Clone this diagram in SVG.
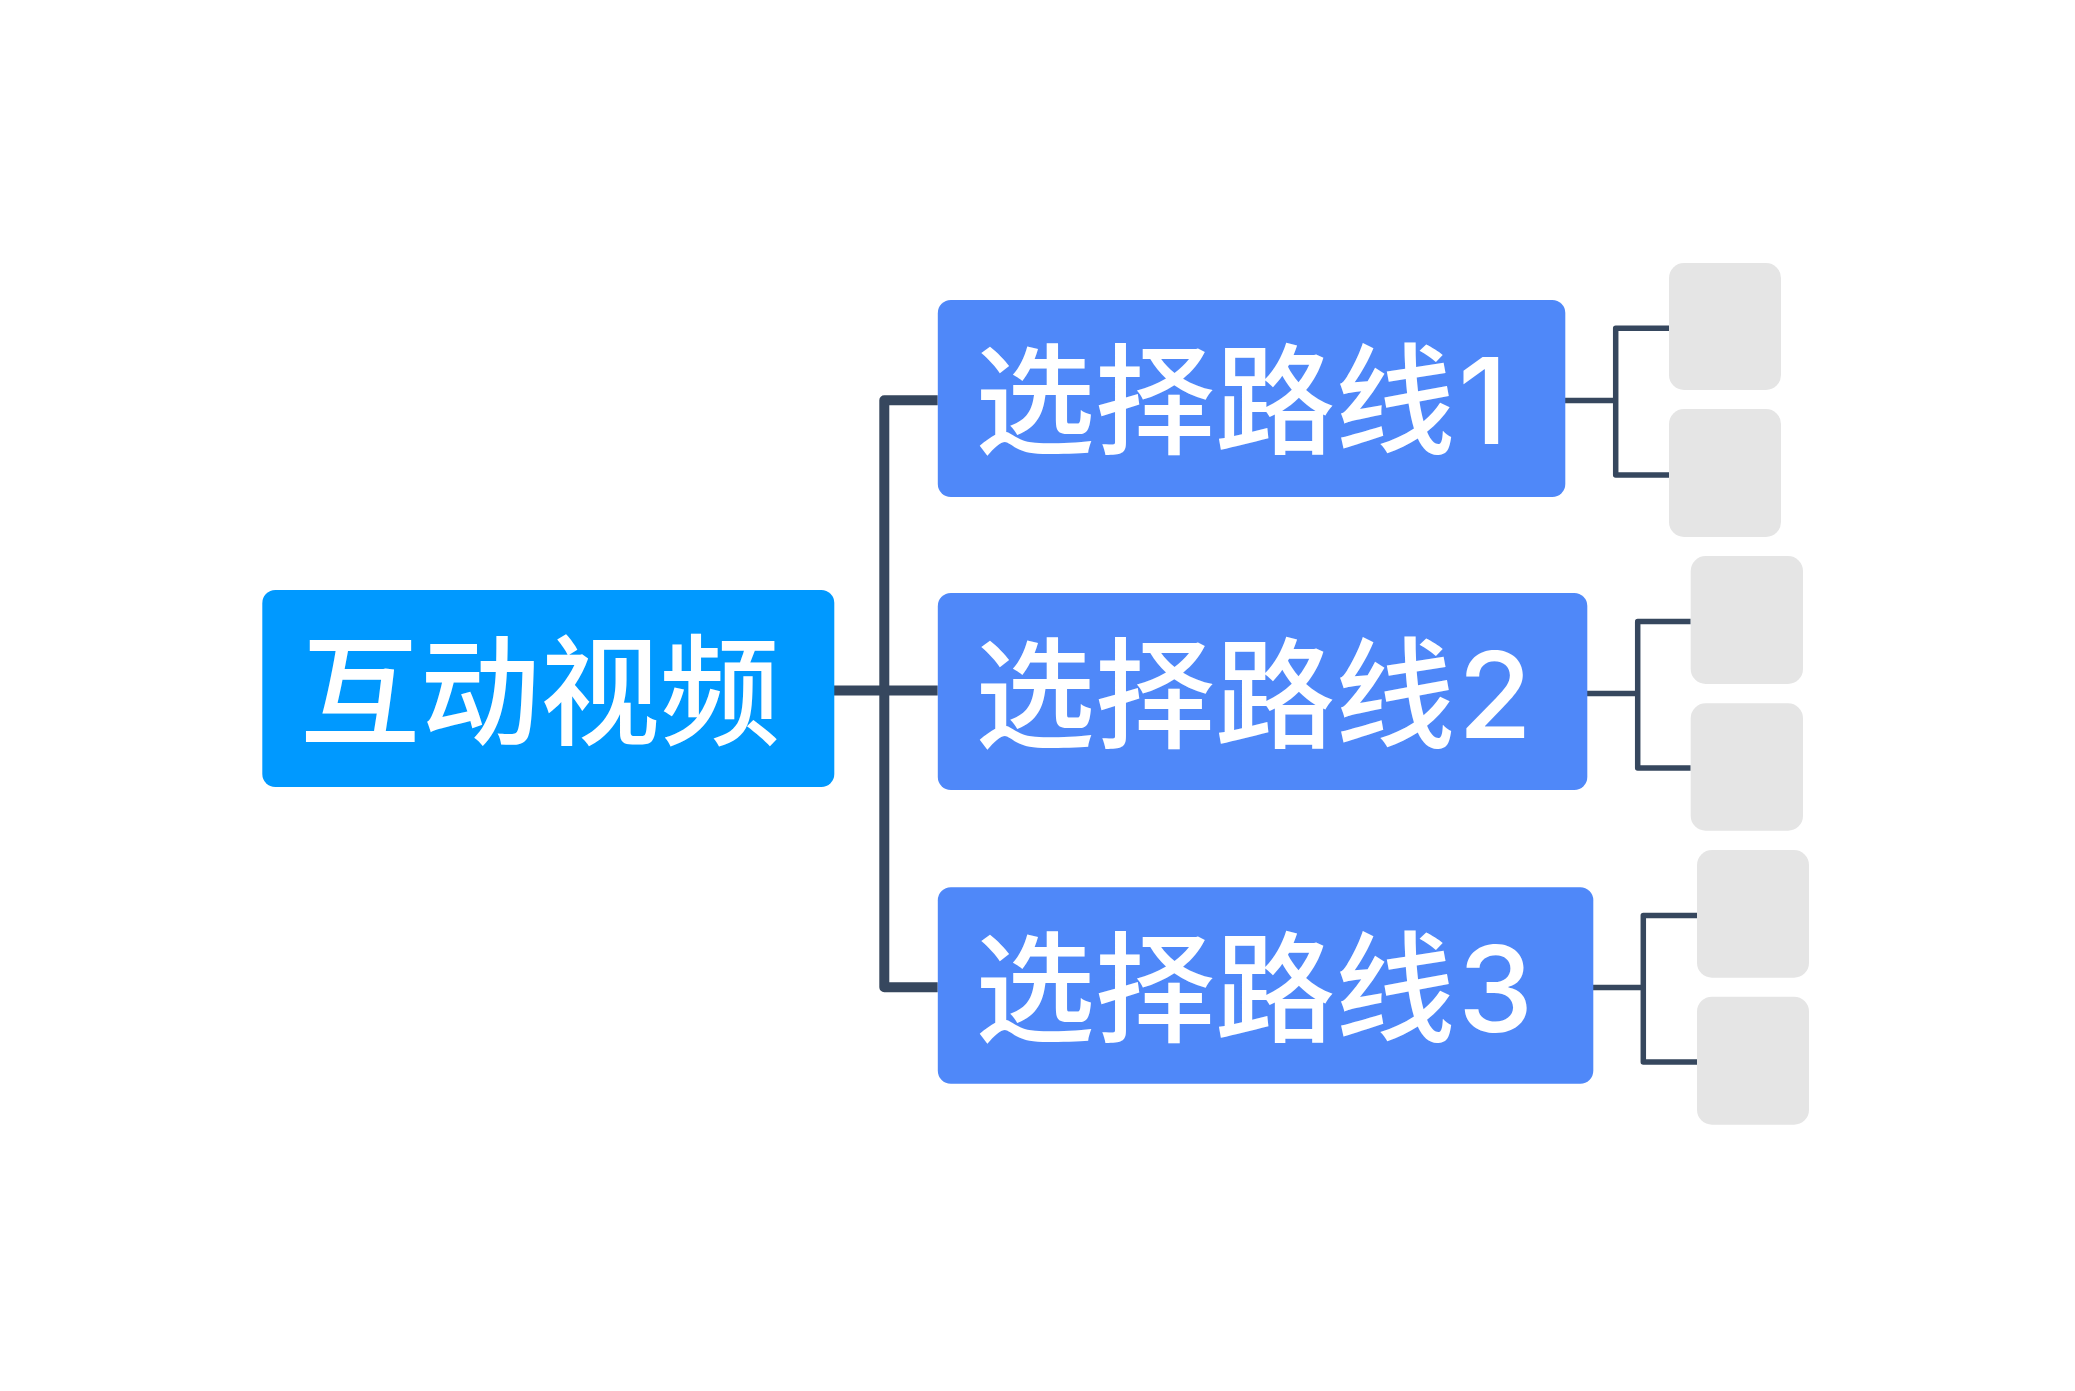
<svg xmlns="http://www.w3.org/2000/svg" width="2075" height="1391" viewBox="0 0 2075 1391">
<style>
.root{fill:#0099FF}
.topic{fill:#4F88F9}
.leaf{fill:#E5E5E5}
.lbl{font-family:"Noto Sans CJK SC","Noto Sans",sans-serif;font-size:120px;font-weight:500;fill:#FFFFFF;dominant-baseline:central}
.num{font-family:Inter,"Liberation Sans",sans-serif;font-weight:500}
.c1{fill:none;stroke:#36475E;stroke-width:10;stroke-linejoin:round}
.c2{fill:none;stroke:#36475E;stroke-width:5.5;stroke-linejoin:round}
</style>
<rect width="2075" height="1391" fill="#FFFFFF"/>
<g id="connectors">
<path class="c1" d="M834,690.5 H937.7"/>
<path class="c1" d="M937.7,400.3 H884.3 V987.3 H937.7"/>
<path class="c2" d="M1565,400.5 H1615.7"/>
<path class="c2" d="M1669,328.3 H1615.7 V475 H1669"/>
<path class="c2" d="M1587,693.5 H1637.7"/>
<path class="c2" d="M1690.7,621.5 H1637.7 V768 H1690.7"/>
<path class="c2" d="M1593,987.5 H1643.3"/>
<path class="c2" d="M1697,915.5 H1643.3 V1062 H1697"/>
</g>
<g id="root">
<rect class="root" x="262.3" y="590" width="572" height="197" rx="13"/>
<text class="lbl" x="300" y="683.5">互动视频</text>
</g>
<g id="route1">
<rect class="topic" x="937.8" y="300" width="627.5" height="197" rx="13"/>
<text class="lbl" x="975" y="393.3">选择路线<tspan class="num" dx="3" dy="7">1</tspan></text>
</g>
<g id="route2">
<rect class="topic" x="937.8" y="593" width="649.5" height="197" rx="13"/>
<text class="lbl" x="975" y="686.5">选择路线<tspan class="num" dx="3" dy="7">2</tspan></text>
</g>
<g id="route3">
<rect class="topic" x="937.8" y="887.3" width="655.5" height="196.5" rx="13"/>
<text class="lbl" x="975" y="980.5">选择路线<tspan class="num" dx="3" dy="7">3</tspan></text>
</g>
<g id="leaf1a"><rect class="leaf" x="1669" y="263" width="112" height="127" rx="15"/></g>
<g id="leaf1b"><rect class="leaf" x="1669" y="409" width="112" height="128" rx="15"/></g>
<g id="leaf2a"><rect class="leaf" x="1690.7" y="556" width="112.3" height="128" rx="15"/></g>
<g id="leaf2b"><rect class="leaf" x="1690.7" y="703.3" width="112.3" height="127.4" rx="15"/></g>
<g id="leaf3a"><rect class="leaf" x="1697" y="850" width="112" height="127.7" rx="15"/></g>
<g id="leaf3b"><rect class="leaf" x="1697" y="996.7" width="112" height="128" rx="15"/></g>
</svg>
